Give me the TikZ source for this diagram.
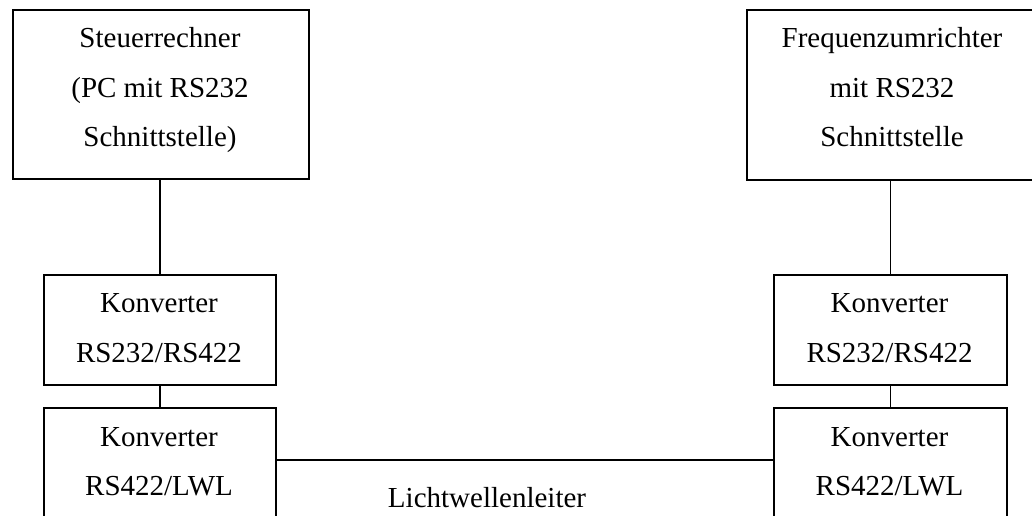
\documentclass[tikz,border=0pt]{standalone}
\usepackage{fontspec}
\setmainfont{Liberation Serif}
\usetikzlibrary{calc}
\begin{document}
\begin{tikzpicture}[x=1pt,y=-1pt,
  box/.style={draw=black,line width=2.2pt,anchor=north west,inner sep=0pt,
              minimum width=#1},
  box/.default=232pt,
  txt/.style={anchor=base,inner sep=0pt,font=\fontsize{29}{35}\selectfont},
  wire/.style={draw=black,line width=1.6pt}]
\useasboundingbox (0,0) rectangle (1032,515);

% device boxes
\node[box=296pt,minimum height=169pt] (pc) at (12,9) {};
\node[box=292pt,minimum height=170pt] (fu) at (746,9) {};
\node[box,minimum height=110pt] (k1l) at (43,274) {};
\node[box,minimum height=140pt] (k2l) at (43,407) {};
\node[box=233pt,minimum height=110pt] (k1r) at (773,274) {};
\node[box=233pt,minimum height=140pt] (k2r) at (773,407) {};

% labels
\node[txt] (pc1) at (160,47) {Steuerrechner};
\node[txt] (pc2) at (160,97) {(PC mit RS232};
\node[txt] (pc3) at (160,146) {Schnittstelle)};
\node[txt] (fu1) at (892,47) {Frequenzumrichter};
\node[txt] (fu2) at (892,97) {mit RS232};
\node[txt] (fu3) at (892,146) {Schnittstelle};
\node[txt] (k1l1) at (159,312) {Konverter};
\node[txt] (k1l2) at (159,362) {RS232/RS422};
\node[txt] (k2l1) at (159,446) {Konverter};
\node[txt] (k2l2) at (159,495) {RS422/LWL};
\node[txt] (k1r1) at (889.5,312) {Konverter};
\node[txt] (k1r2) at (889.5,362) {RS232/RS422};
\node[txt] (k2r1) at (889.5,446) {Konverter};
\node[txt] (k2r2) at (889.5,495) {RS422/LWL};
\node[txt] (lwl) at (487,507) {Lichtwellenleiter};

% connections
\draw[wire] (k1l.north) -- (k1l.north |- pc.south);
\draw[wire] (k2l.north) -- (k1l.south);
\draw[wire] (k1r.north) -- (k1r.north |- fu.south);
\draw[wire] (k2r.north) -- (k1r.south);
% fibre-optic link between the two RS422/LWL converters
\coordinate (lwlA) at ($(k2l.north east)+(0,53)$);
\draw[wire] (lwlA) -- (lwlA -| k2r.west);
\end{tikzpicture}
\end{document}
